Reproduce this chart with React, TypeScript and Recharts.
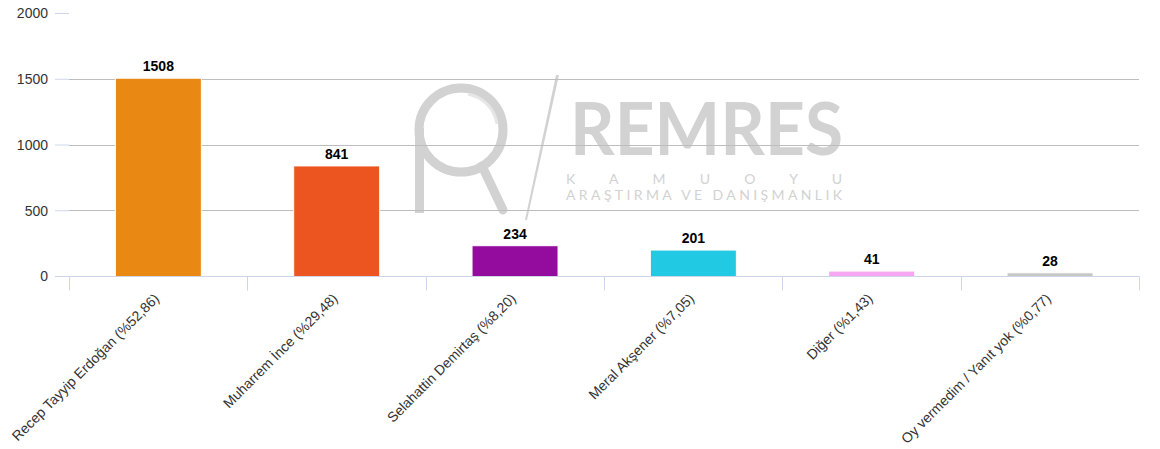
import React from 'react'
import { BarChart, Bar, XAxis, YAxis, CartesianGrid, Cell, LabelList } from 'recharts'

const names = [
  'Recep Tayyip Erdoğan (%52,86)',
  'Muharrem İnce (%29,48)',
  'Selahattin Demirtaş (%8,20)',
  'Meral Akşener (%7,05)',
  'Diğer (%1,43)',
  'Oy vermedim / Yanıt yok (%0,77)',
]
const values = [1508, 841, 234, 201, 41, 28]
const colors = ['#E98914', '#EC551F', '#930C9E', '#22C9E3', '#F7A6F1', '#C6C6C6']
const yTicks = [0, 500, 1000, 1500, 2000]
const gridValues = [500, 1000, 1500]
const Y_MAX = 2000

const W = 1160
const H = 449
const M = { top: 13.5, right: 21, left: 0, bottom: 0 }
const X_H = 172.5
const Y_W = 69
const PLOT_W = W - Y_W - M.right
const BAND = PLOT_W / names.length
const AXIS_BLUE = '#ccd6eb'
const FONT = '"Liberation Sans", Arial, Helvetica, sans-serif'

const data = names.map((name, i) => ({ name, value: values[i] }))

/* ── x tick: boundary tick marks + rotated label ── */
function XTick(props: any) {
  const { x, y, payload, index } = props
  const half = BAND / 2
  const lx = Math.round(x - half) + 0.5
  const rx = Math.round(x + half) + 0.5
  const ax = x + 2
  const ay = y + 23
  return (
    <g>
      <line x1={lx} x2={lx} y1={y} y2={y + 14} stroke={AXIS_BLUE} strokeWidth={1} />
      {index === names.length - 1 && (
        <line x1={rx} x2={rx} y1={y} y2={y + 14} stroke={AXIS_BLUE} strokeWidth={1} />
      )}
      <text
        x={ax}
        y={ay}
        transform={`rotate(-45 ${ax} ${ay})`}
        textAnchor="end"
        fontSize={14}
        fill="#333"
        fontFamily={FONT}
      >
        {payload.value}
      </text>
    </g>
  )
}

/* ── watermark behind the chart ── */
function Watermark() {
  const c = '#d2d2d2'
  return (
    <svg width={W} height={H} style={{ position: 'absolute', left: 0, top: 0 }}>
      <circle cx={461} cy={130} r={42} fill="none" stroke={c} strokeWidth={9} />
      <rect x={415} y={128} width={9} height={85} fill={c} />
      <line x1={482} x2={503} y1={166} y2={210} stroke={c} strokeWidth={9} strokeLinecap="round" />
      <path d="M 468 94 A 36 36 0 0 1 497 124" fill="none" stroke="#e6e6e6" strokeWidth={3} />
      <polygon points="556,75 559,75 527,220 525,220" fill={c} />
      <text x={570} y={155} fontSize={72} fill={c} fontFamily="Lato, sans-serif" fontWeight={700} textLength={273} lengthAdjust="spacingAndGlyphs">
        REMRES
      </text>
      <text x={566} y={184} fontSize={14} fill={c} fontFamily="Lato, sans-serif" textLength={276} lengthAdjust="spacing">
        K A M U O Y U
      </text>
      <text x={566} y={200} fontSize={14} fill={c} fontFamily="Lato, sans-serif" textLength={276} lengthAdjust="spacing">
        ARAŞTIRMA VE DANIŞMANLIK
      </text>
    </svg>
  )
}

function gridCoords({ yAxis, offset }: any) {
  const s = yAxis && yAxis.scale
  return gridValues.map(v => {
    let y: number
    if (typeof s === 'function') y = s(v)
    else if (s && typeof s.map === 'function') y = s.map(v)
    else y = offset.top + offset.height * (1 - v / Y_MAX)
    return Math.floor(y) + 0.5
  })
}

export default function App() {
  return (
    <div style={{ position: 'absolute', left: 0, top: 0, width: W, height: H, background: '#fff' }}>
      <Watermark />
      <div style={{ position: 'absolute', left: 0, top: 0 }}>
        <BarChart width={W} height={H} data={data} margin={M} barCategoryGap="26%">
          <CartesianGrid vertical={false} stroke="#bdbdbd" horizontalCoordinatesGenerator={gridCoords} />
          <XAxis
            dataKey="name"
            interval={0}
            height={X_H}
            tickSize={0}
            tickMargin={0}
            tickLine={false}
            axisLine={{ stroke: AXIS_BLUE }}
            tick={<XTick />}
          />
          <YAxis
            width={Y_W}
            domain={[0, Y_MAX]}
            ticks={yTicks}
            interval={0}
            axisLine={false}
            tickSize={14}
            tickMargin={7}
            tickLine={{ stroke: AXIS_BLUE }}
            tick={{ fontSize: 14, fill: '#333', fontFamily: FONT }}
          />
          <Bar dataKey="value" isAnimationActive={false} stroke="#fff" strokeWidth={1}>
            {data.map((_, i) => <Cell key={i} fill={colors[i]} />)}
            <LabelList
              dataKey="value"
              position="top"
              offset={7}
              style={{ fontSize: 14, fontWeight: 'bold', fill: '#000', fontFamily: FONT }}
            />
          </Bar>
        </BarChart>
      </div>
    </div>
  )
}
